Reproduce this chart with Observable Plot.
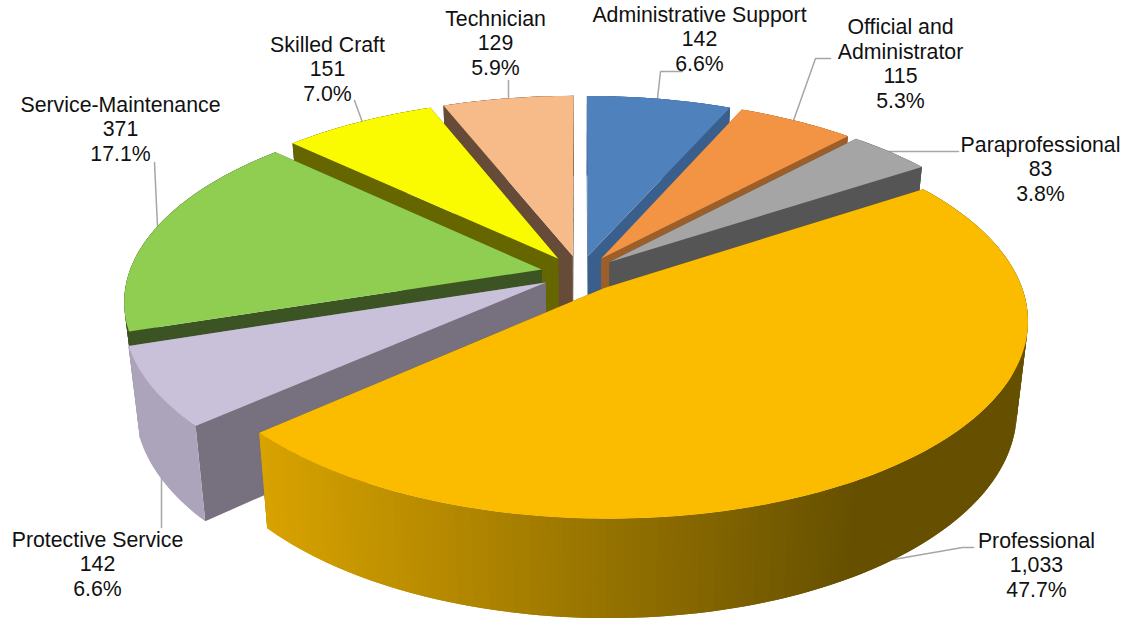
<!DOCTYPE html>
<html>
<head>
<meta charset="utf-8">
<script src="https://cdn.jsdelivr.net/npm/d3@7"></script>
<script src="https://cdn.jsdelivr.net/npm/@observablehq/plot@0.6"></script>
<style>
  html, body { margin: 0; padding: 0; background: #fff; }
  svg { display: block; }
</style>
</head>
<body>
<div id="chart"></div>
<script>
// Workforce by job category, clockwise from twelve o'clock
const categories = ["Administrative Support", "Official and\nAdministrator", "Paraprofessional", "Professional",
  "Protective Service", "Service-Maintenance", "Skilled Craft", "Technician"];
const counts = [142, 115, 83, 1033, 142, 371, 151, 129];
const countLabels = ["142", "115", "83", "1,033", "142", "371", "151", "129"];
const shares = ["6.6%", "5.3%", "3.8%", "47.7%", "6.6%", "17.1%", "7.0%", "5.9%"];

// Colours of each slice: top face, cut faces, outer wall
const topColors = ["#4f81bd", "#f29443", "#a5a5a5", "#fbbc00", "#c9c0d9", "#8fce50", "#fafa00", "#f7bb8a"];
const cutColors = ["#3a5f8c", "#9c5f2a", "#555555", "#665000", "#76707f", "#3c5423", "#666600", "#664b38"];
const wallColors = ["#3a5f8c", "#9c5f2a", "#555555", null, "#aca4ba", "#3c5423", "#666600", "#664b38"];
const professionalWall = ["#d9a300", "#665000"];

// Text block centres and leader line paths, in page pixels
const labelX = [699, 900, 1040, 1036, 97, 120, 327, 495];
const labelY = [38, 62.5, 168, 564, 563, 128, 68, 42];
const leaderPaths = [
  [[682, 71], [660, 71], [657, 98]],
  [[830, 58], [815, 58], [793, 120]],
  [[958, 151], [935, 151], [888, 151]],
  [[973, 547], [962, 547], [893, 559]],
  [[161, 527], [161, 478]],
  [[154, 162], [157, 226]],
  [[354, 100], [362, 122]],
  [[508, 80], [508, 98]]
];

// Tilted disc: plane coordinates projected with perspective, far side smaller
const view = {cx: 579.5, cy: 273, rx: 413, ry: 190, persp: 0.155, depth: 88, baseScale: 0.975, explode: 0.095};
function project(u, v, level) {
  const s = 1 / (1 + view.persp * v);
  const X = view.rx * u * s, Y = -view.ry * v * s;
  const k = level ? view.baseScale : 1;
  return {x: view.cx + X * k, y: view.cy + Y * k + (level ? view.depth * s : 0)};
}

const total = d3.sum(counts);
let running = 0;
const slices = counts.map((count, i) => {
  const a0 = running / total * 2 * Math.PI;
  running += count;
  const a1 = running / total * 2 * Math.PI;
  const mid = (a0 + a1) / 2;
  return {i, a0, a1, mid, ou: view.explode * Math.sin(mid), ov: view.explode * Math.cos(mid)};
});

// Corner and rim helpers for one slice
const apex = (sl, level) => project(sl.ou, sl.ov, level);
const rim = (sl, a, level) => project(sl.ou + Math.sin(a), sl.ov + Math.cos(a), level);

// Painter's algorithm: far slices go down first, each solid from the inside out.
// Wall strips overlap the next strip so no seams show between them.
const rows = [];
let faceId = 0;
const addFace = (points, color) => {
  const id = faceId++;
  for (const p of points) rows.push({face: id, x: p.x, y: p.y, color});
};
const wallTint = d3.interpolateRgb(professionalWall[0], professionalWall[1]);
for (const sl of d3.sort(slices, (s) => -Math.cos(s.mid))) {
  const {i, a0, a1} = sl;
  addFace([apex(sl, 0), rim(sl, a0, 0), rim(sl, a0, 1), apex(sl, 1)], cutColors[i]);
  addFace([apex(sl, 0), rim(sl, a1, 0), rim(sl, a1, 1), apex(sl, 1)], cutColors[i]);
  const steps = Math.max(4, Math.ceil((a1 - a0) * 180 / Math.PI));
  const at = (k) => a0 + (a1 - a0) * Math.min(k, steps) / steps;
  for (let k = 0; k < steps; ++k) {
    const p = rim(sl, at(k), 0);
    const color = wallColors[i] ?? wallTint(Math.max(0, Math.min(1, (p.x - 260) / 600)));
    addFace([p, rim(sl, at(k + 2), 0), rim(sl, at(k + 2), 1), rim(sl, at(k), 1)], color);
  }
  const top = [apex(sl, 0)];
  for (let k = 0; k <= steps; ++k) top.push(rim(sl, at(k), 0));
  addFace(top, topColors[i]);
}

const leaderRows = leaderPaths.flatMap((path, i) => path.map(([x, y]) => ({i, x, y})));
const labels = categories.map((name, i) => ({
  x: labelX[i], y: labelY[i], text: `${name}\n${countLabels[i]}\n${shares[i]}`
}));

const plot = Plot.plot({
  width: 1124,
  height: 619,
  margin: 0,
  x: {domain: [0, 1124], axis: null},
  y: {domain: [619, 0], axis: null},
  style: {background: "#fff"},
  marks: [
    Plot.line(leaderRows, {x: "x", y: "y", z: "i", stroke: "#a6a6a6", strokeWidth: 1.5}),
    Plot.line(rows, {x: "x", y: "y", z: "face", fill: "color"}),
    Plot.text(labels, {
      x: "x", y: "y", text: "text", textAnchor: "middle", lineAnchor: "middle", lineHeight: 1.15,
      fontSize: 21.3, fontFamily: "Liberation Sans, Arial, sans-serif", fill: "#111"
    })
  ]
});
document.getElementById("chart").append(plot);
</script>
</body>
</html>
